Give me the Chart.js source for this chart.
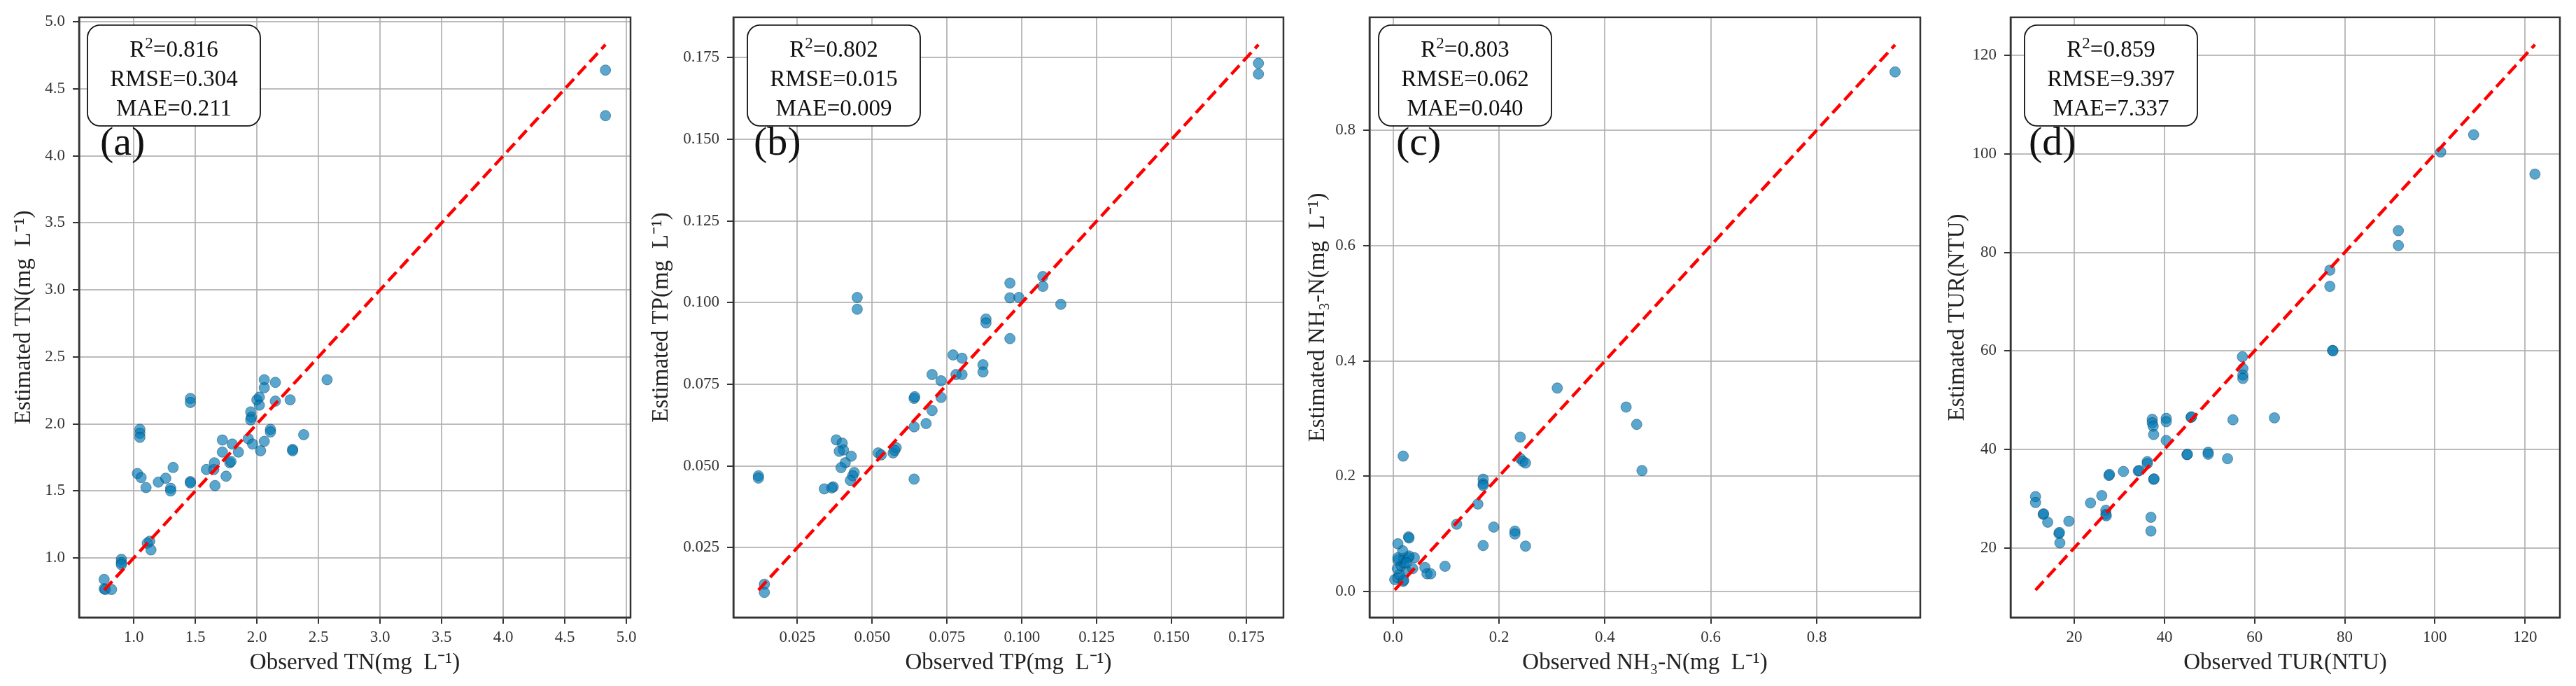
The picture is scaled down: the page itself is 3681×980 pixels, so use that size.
<!DOCTYPE html>
<html>
<head>
<meta charset="utf-8">
<script src="https://cdn.jsdelivr.net/npm/chart.js@4.4.1/dist/chart.umd.min.js"></script>
<style>
  body { margin: 0; background: #fff; }
  #wrap { position: relative; width: 3681px; height: 980px; }
  canvas { position: absolute; top: 0; }
</style>
</head>
<body>
<div id="wrap">
  <canvas id="tn"></canvas>
  <canvas id="tp"></canvas>
  <canvas id="nh"></canvas>
  <canvas id="tur"></canvas>
</div>
<script>
// observed / estimated values
const tnObs = [0.76, 0.76, 0.77, 0.82, 0.90, 0.90, 0.90, 1.13, 1.11, 1.14, 1.03, 1.06, 1.10, 1.20, 1.26, 1.30, 1.30, 1.32, 1.46, 1.46,
  1.05, 1.05, 1.05, 1.46, 1.46, 1.59, 1.65, 1.655, 1.66, 1.75, 1.72, 1.72, 1.80, 1.78, 1.79, 1.85,
  1.93, 1.965, 2.03, 2.06, 2.11, 2.11, 2.29, 2.29, 2.38, 1.95, 1.955, 1.95, 2.00, 2.02, 2.02, 2.06, 2.06, 2.15, 2.15, 2.27, 2.57, 4.83, 4.83];
const tnEst = [0.84, 0.77, 0.765, 0.765, 0.99, 0.965, 0.95, 1.125, 1.11, 1.06, 1.63, 1.60, 1.525, 1.566, 1.595, 1.52, 1.50, 1.675, 1.57, 1.56,
  1.96, 1.93, 1.90, 2.19, 2.16, 1.66, 1.66, 1.71, 1.54, 1.61, 1.88, 1.79, 1.85, 1.71, 1.72, 1.79,
  1.89, 1.85, 1.80, 1.87, 1.96, 1.94, 1.81, 1.80, 1.92, 2.09, 2.05, 2.03, 2.18, 2.20, 2.14, 2.33, 2.27, 2.31, 2.17, 2.18, 2.33, 4.64, 4.30];

const tpObs = [0.012, 0.012, 0.014, 0.014, 0.034, 0.037, 0.0365, 0.038, 0.040, 0.0404, 0.039, 0.043, 0.041, 0.0396, 0.044, 0.0435, 0.0427,
  0.045, 0.045, 0.052, 0.053, 0.057, 0.058, 0.0575, 0.064, 0.064, 0.064, 0.0642, 0.068, 0.070, 0.073, 0.073, 0.070,
  0.077, 0.080, 0.078, 0.080, 0.087, 0.087, 0.088, 0.088, 0.096, 0.096, 0.096, 0.099, 0.107, 0.107, 0.113, 0.179, 0.179];
const tpEst = [0.047, 0.0463, 0.0138, 0.0113, 0.043, 0.0436, 0.0433, 0.058, 0.057, 0.0549, 0.0545, 0.053, 0.051, 0.0495, 0.048, 0.047, 0.0456,
  0.1016, 0.098, 0.054, 0.0534, 0.054, 0.0556, 0.0548, 0.046, 0.062, 0.0707, 0.0712, 0.063, 0.067, 0.071, 0.0761, 0.078,
  0.084, 0.083, 0.078, 0.078, 0.081, 0.0788, 0.095, 0.0938, 0.089, 0.106, 0.1015, 0.1016, 0.108, 0.105, 0.0995, 0.1733, 0.170];

const nhObs = [0.003, 0.009, 0.019, 0.020, 0.012, 0.025, 0.008, 0.037, 0.015, 0.020, 0.009, 0.020, 0.029, 0.040, 0.009, 0.030, 0.025, 0.018, 0.009, 0.029, 0.030,
  0.060, 0.064, 0.071,
  0.098, 0.12, 0.16, 0.17, 0.17, 0.17, 0.17, 0.19, 0.23, 0.23, 0.25, 0.24, 0.24, 0.245, 0.25, 0.31, 0.44, 0.46, 0.47, 0.019, 0.948];
const nhEst = [0.021, 0.024, 0.018, 0.020, 0.030, 0.036, 0.040, 0.040, 0.045, 0.050, 0.055, 0.058, 0.059, 0.059, 0.059, 0.062, 0.050, 0.071, 0.083, 0.095, 0.093,
  0.042, 0.031, 0.031,
  0.044, 0.117, 0.152, 0.195, 0.187, 0.184, 0.080, 0.112, 0.105, 0.10, 0.079, 0.268, 0.231, 0.226, 0.223, 0.353, 0.32, 0.29, 0.21, 0.235, 0.901];

const turObs = [11.4, 11.4, 13.1, 13.2, 14.1, 16.6, 16.7, 16.8, 18.8,
  23.6, 26.1, 27.0, 27.0, 27.1, 27.7, 27.8, 30.9, 34.2, 34.4, 36.2, 36.2,
  37.0, 37.0, 37.6, 37.7, 37.3, 37.3, 37.5, 37.6, 40.4, 40.4, 40.4,
  45.0, 45.1, 45.9, 46.0, 49.7, 49.7, 54.0, 55.2, 57.3, 57.4, 57.4, 57.4, 64.4,
  76.7, 76.7, 77.3, 77.4, 91.9, 91.9, 101.3, 108.6, 122.2];
const turEst = [30.4, 29.2, 26.8, 26.9, 25.2, 22.9, 23.1, 21.0, 25.4,
  29.1, 30.6, 27.6, 26.8, 26.5, 34.7, 34.9, 35.5, 35.6, 35.7, 37.5, 37.1,
  26.2, 23.4, 33.9, 34.0, 46.1, 45.4, 44.7, 43.0, 46.3, 45.6, 41.8,
  38.9, 39.0, 46.5, 46.6, 39.4, 39.0, 38.1, 46.0, 58.8, 56.4, 55.1, 54.4, 46.4,
  76.4, 73.1, 60.1, 60.0, 84.4, 81.4, 100.4, 103.9, 95.9];

// 1:1 line ends (x = y)
const tnLine = [0.76, 4.83];
const tpLine = [0.012, 0.179];
const nhLine = [0.003, 0.948];
const turLine = [11.4, 122.2];

// axis limits and tick labels
const tnRange = [0.5565, 5.0335];
const tpRange = [0.00365, 0.18735];
const nhRange = [-0.0446, 0.9956];
const turRange = [5.86, 127.74];
const tnTicks = ['1.0', '1.5', '2.0', '2.5', '3.0', '3.5', '4.0', '4.5', '5.0'];
const tpTicks = ['0.025', '0.050', '0.075', '0.100', '0.125', '0.150', '0.175'];
const nhTicks = ['0.0', '0.2', '0.4', '0.6', '0.8'];
const turTicks = ['20', '40', '60', '80', '100', '120'];

const r2Vals = ['0.816', '0.802', '0.803', '0.859'];
const rmseVals = ['0.304', '0.015', '0.062', '9.397'];
const maeVals = ['0.211', '0.009', '0.040', '7.337'];
const tags = ['(a)', '(b)', '(c)', '(d)'];

const xTitles = ['Observed TN(mg  L\u207B\u00B9)', 'Observed TP(mg  L\u207B\u00B9)', 'Observed NH\u2083-N(mg  L\u207B\u00B9)', 'Observed TUR(NTU)'];
const yTitles = ['Estimated TN(mg  L\u207B\u00B9)', 'Estimated TP(mg  L\u207B\u00B9)', 'Estimated NH\u2083-N(mg  L\u207B\u00B9)', 'Estimated TUR(NTU)'];

const FONT = '"Liberation Serif", "Times New Roman", serif';

const panels = [
  { id: 'tn', obs: tnObs, est: tnEst, line: tnLine, range: tnRange, ticks: tnTicks, plotLeft: 113, plotW: 788, yW: 98, boxDx: 12, tagDx: 30 },
  { id: 'tp', obs: tpObs, est: tpEst, line: tpLine, range: tpRange, ticks: tpTicks, plotLeft: 1048, plotW: 786, yW: 122, boxDx: 20, tagDx: 29 },
  { id: 'nh', obs: nhObs, est: nhEst, line: nhLine, range: nhRange, ticks: nhTicks, plotLeft: 1957, plotW: 787, yW: 93, boxDx: 13, tagDx: 38 },
  { id: 'tur', obs: turObs, est: turEst, line: turLine, range: turRange, ticks: turTicks, plotLeft: 2873, plotW: 785, yW: 95, boxDx: 20, tagDx: 26 }
];

function roundBox(ctx, x, y, w, h, r) {
  ctx.beginPath();
  ctx.moveTo(x + r, y);
  ctx.arcTo(x + w, y, x + w, y + h, r);
  ctx.arcTo(x + w, y + h, x, y + h, r);
  ctx.arcTo(x, y + h, x, y, r);
  ctx.arcTo(x, y, x + w, y, r);
  ctx.closePath();
}

// frame, stats box and panel letter
const panelDecor = {
  id: 'panelDecor',
  afterDatasetsDraw(chart, args, opts) {
    const { ctx, chartArea: a } = chart;
    ctx.save();
    ctx.strokeStyle = '#333';
    ctx.lineWidth = 2.5;
    ctx.strokeRect(a.left, a.top, a.right - a.left, a.bottom - a.top);

    const bx = a.left + opts.boxDx, by = a.top + 11, bw = 247, bh = 144;
    roundBox(ctx, bx, by, bw, bh, 18);
    ctx.fillStyle = '#fff';
    ctx.fill();
    ctx.lineWidth = 1.8;
    ctx.strokeStyle = '#111';
    ctx.stroke();

    const big = '33px ' + FONT, small = '23px ' + FONT;
    const cx = bx + bw / 2;
    ctx.fillStyle = '#111';
    ctx.textBaseline = 'alphabetic';
    ctx.textAlign = 'left';
    ctx.font = big;
    const wR = ctx.measureText('R').width;
    const wRest = ctx.measureText('=' + opts.r2).width;
    ctx.font = small;
    const w2 = ctx.measureText('2').width;
    let x = cx - (wR + w2 + wRest) / 2;
    ctx.font = big;
    ctx.fillText('R', x, by + 45);
    x += wR;
    ctx.font = small;
    ctx.fillText('2', x, by + 33);
    x += w2;
    ctx.font = big;
    ctx.fillText('=' + opts.r2, x, by + 45);
    ctx.textAlign = 'center';
    ctx.fillText('RMSE=' + opts.rmse, cx, by + 87);
    ctx.fillText('MAE=' + opts.mae, cx, by + 129);

    ctx.textAlign = 'left';
    ctx.font = '58px ' + FONT;
    ctx.fillText(opts.tag, a.left + opts.tagDx, 221);
    ctx.restore();
  }
};

function axisOptions(p, title, isX, size) {
  return {
    type: 'linear',
    min: p.range[0],
    max: p.range[1],
    afterBuildTicks: (s) => { s.ticks = p.ticks.map(t => ({ value: parseFloat(t) })); },
    afterFit: (s) => { if (isX) s.height = 98; else s.width = p.yW; },
    ticks: {
      autoSkip: false,
      maxRotation: 0,
      padding: isX ? 6 : 11,
      color: '#333',
      font: { family: FONT, size: 23 },
      callback: (v, i) => p.ticks[i]
    },
    grid: {
      color: 'rgba(176,176,176,0.85)',
      lineWidth: 2,
      drawTicks: true,
      tickLength: 9,
      tickWidth: 2,
      tickColor: '#333'
    },
    border: { display: true, color: '#333', width: 2.5 },
    title: {
      display: true,
      text: title,
      color: '#222',
      font: { family: FONT, size: 33 },
      padding: isX ? { top: 0, bottom: 13 } : { top: 0, bottom: 0 }
    }
  };
}

function buildChart(p, i) {
  const canvas = document.getElementById(p.id);
  const width = p.yW + p.plotW + 30;
  canvas.width = width;
  canvas.height = 980;
  canvas.style.left = (p.plotLeft - p.yW) + 'px';
  canvas.style.width = width + 'px';
  canvas.style.height = '980px';

  const points = p.obs.map((o, k) => ({ x: o, y: p.est[k] }));
  const line = p.line.map(v => ({ x: v, y: v }));

  return new Chart(canvas.getContext('2d'), {
    type: 'scatter',
    data: {
      datasets: [{
        type: 'line',
        data: line,
        order: 0,
        borderColor: '#ff0000',
        borderWidth: 4.5,
        borderDash: [17, 8],
        pointRadius: 0,
        fill: false
      }, {
        data: points,
        order: 1,
        backgroundColor: 'rgba(0,120,180,0.65)',
        borderColor: 'rgba(10,50,80,0.45)',
        borderWidth: 1,
        pointRadius: 7.5
      }]
    },
    options: {
      responsive: false,
      animation: false,
      layout: { padding: { top: 22, right: 30, left: 0, bottom: 0 } },
      scales: {
        x: axisOptions(p, xTitles[i], true),
        y: axisOptions(p, yTitles[i], false)
      },
      plugins: {
        legend: { display: false },
        tooltip: { enabled: false },
        panelDecor: { boxDx: p.boxDx, tagDx: p.tagDx, r2: r2Vals[i], rmse: rmseVals[i], mae: maeVals[i], tag: tags[i] }
      }
    },
    plugins: [panelDecor]
  });
}

window.addEventListener('load', () => {
  panels.forEach((p, i) => buildChart(p, i));
});
</script>
</body>
</html>
